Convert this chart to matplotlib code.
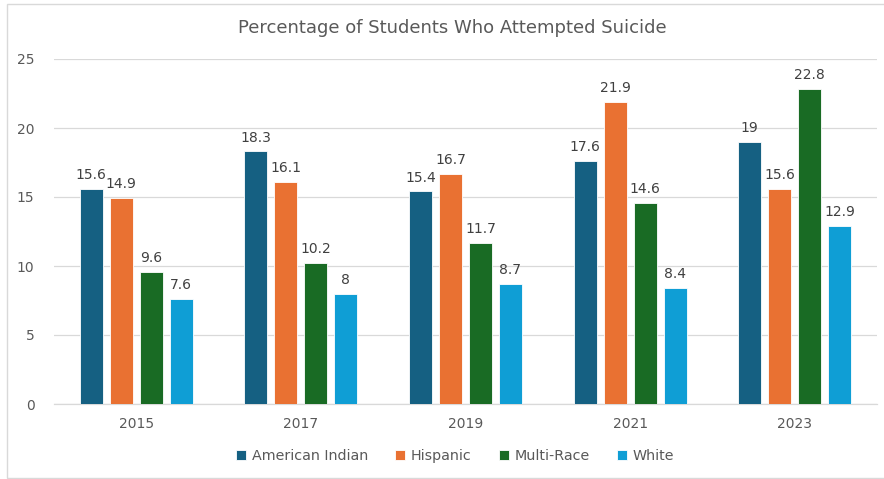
import numpy as np
import matplotlib.pyplot as plt
from matplotlib.patches import Rectangle

plt.rcParams['font.family'] = ['DejaVu Sans']

years = ['2015', '2017', '2019', '2021', '2023']
groups = ['American Indian', 'Hispanic', 'Multi-Race', 'White']
american_indian = [15.6, 18.3, 15.4, 17.6, 19]
hispanic = [14.9, 16.1, 16.7, 21.9, 15.6]
multi_race = [9.6, 10.2, 11.7, 14.6, 22.8]
white = [7.6, 8, 8.7, 8.4, 12.9]
colors = ['#156082', '#E97132', '#196B24', '#0F9ED5']

series = [american_indian, hispanic, multi_race, white]

fig = plt.figure(figsize=(8.84, 4.79), dpi=100)
fig.patch.set_facecolor('white')

# outer chart frame
fig.patches.append(Rectangle((7 / 884, 1 / 479), 1.0, 1 - 5 / 479,
                             transform=fig.transFigure, fill=False,
                             edgecolor='#D9D9D9', linewidth=1.0))

ax = fig.add_axes([54 / 884, 1 - 404 / 479, 823 / 884, 345 / 479])

x = np.arange(len(years))
bar_w = 0.14
step = 0.182
offsets = (np.arange(len(groups)) - 1.5) * step

for vals, off, col, name in zip(series, offsets, colors, groups):
    bars = ax.bar(x + off, vals, width=bar_w, color=col, label=name,
                  edgecolor='white', linewidth=0.6, zorder=3)
    for b, v in zip(bars, vals):
        ax.annotate(f'{v:g}', (b.get_x() + b.get_width() / 2, v),
                    xytext=(0, 5), textcoords='offset points',
                    ha='center', va='bottom', fontsize=10, color='#404040')

ax.set_xlim(-0.5, len(years) - 0.5)
ax.set_ylim(0, 25)
ax.set_yticks(range(0, 26, 5))
ax.set_xticks(x)
ax.set_xticklabels(years)
ax.tick_params(axis='both', length=0, labelsize=10, colors='#595959')
ax.tick_params(axis='y', pad=14)
ax.tick_params(axis='x', pad=9)
ax.grid(axis='y', color='#D9D9D9', linewidth=0.9, zorder=0)
for s in ['top', 'right', 'left']:
    ax.spines[s].set_visible(False)
ax.spines['bottom'].set_color('#D9D9D9')
ax.spines['bottom'].set_linewidth(0.9)

fig.text(452 / 884, 1 - 28 / 479, 'Percentage of Students Who Attempted Suicide',
         ha='center', va='center', fontsize=13, color='#595959')

fig.legend(loc='center', bbox_to_anchor=(455 / 884, 1 - 456 / 479), ncol=4,
           frameon=False, fontsize=10.3, labelcolor='#595959',
           handlelength=0.7, handleheight=0.7, handletextpad=0.4,
           columnspacing=1.9)

fig.savefig('out.png', dpi=100, facecolor=fig.get_facecolor())
